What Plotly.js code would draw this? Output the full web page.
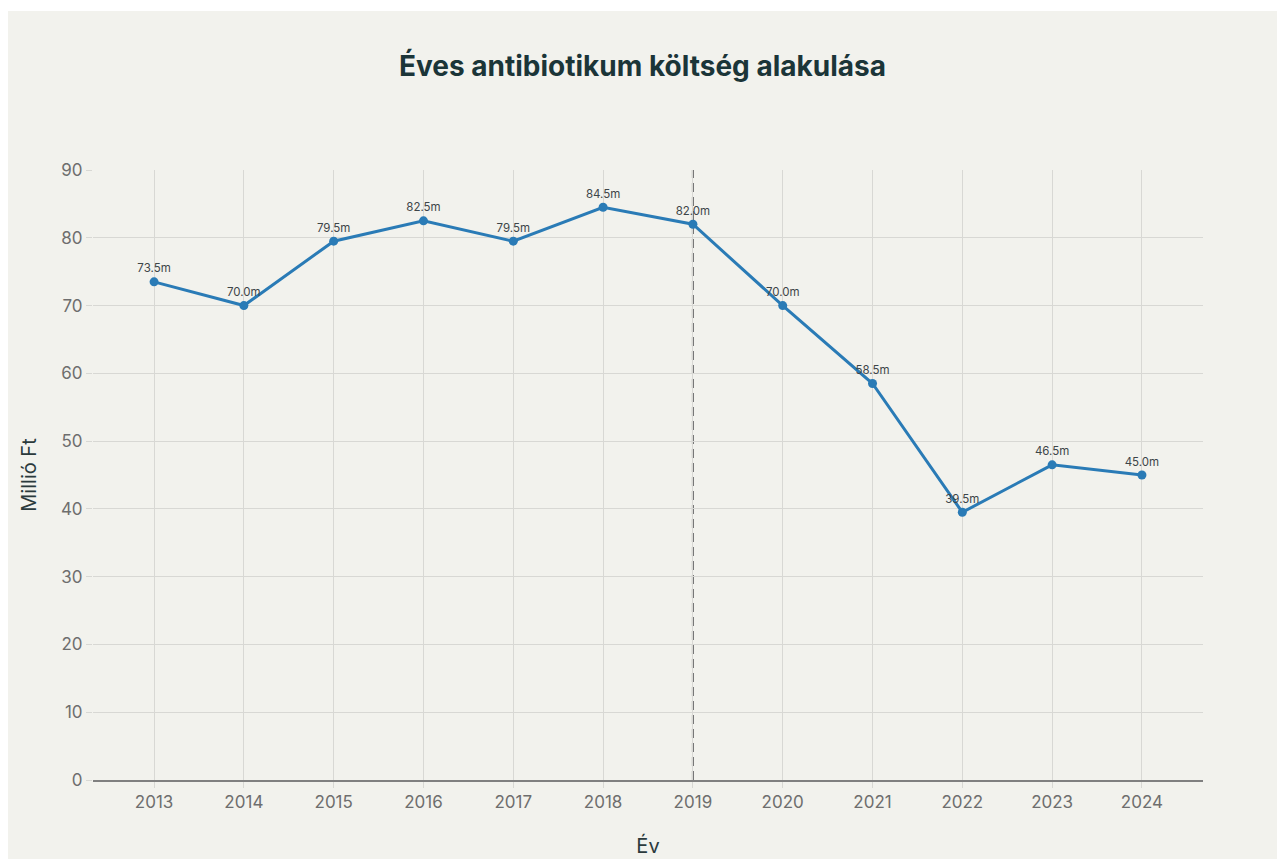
<!DOCTYPE html>
<html>
<head>
<meta charset="utf-8">
<script src="https://cdn.plot.ly/plotly-3.0.1.min.js"></script>
<style>
  html, body { margin: 0; padding: 0; background: #ffffff; }
  #chart { position: absolute; left: 8px; top: 11px; width: 1269px; height: 848px; }
</style>
</head>
<body>
<div id="chart"></div>
<script>
const years = [2013, 2014, 2015, 2016, 2017, 2018, 2019, 2020, 2021, 2022, 2023, 2024];
const costs = [73.5, 70.0, 79.5, 82.5, 79.5, 84.5, 82.0, 70.0, 58.5, 39.5, 46.5, 45.0];
const labels = costs.map(v => v.toFixed(1) + 'm');
const markerYear = 2019;
const yTicks = [0, 10, 20, 30, 40, 50, 60, 70, 80, 90];

const FONT = 'Inter, "Open Sans", sans-serif';

const trace = {
  x: years,
  y: costs,
  type: 'scatter',
  mode: 'lines+markers+text',
  text: labels,
  textposition: 'top center',
  textfont: { family: FONT, size: 11.5, color: '#3d4548' },
  line: { color: '#2a7bb6', width: 3 },
  marker: { color: '#2a7bb6', size: 9 },
  cliponaxis: false,
  hoverinfo: 'x+y'
};

const layout = {
  width: 1269,
  height: 848,
  paper_bgcolor: '#f2f2ed',
  plot_bgcolor: '#f2f2ed',
  margin: { l: 85, r: 74, t: 159, b: 79 },
  showlegend: false,
  title: {
    text: 'Éves antibiotikum költség alakulása',
    font: { family: FONT, size: 28, color: '#1b3538', weight: 'bold' },
    x: 0.5, xanchor: 'center',
    y: 1 - 55 / 848, yref: 'container', yanchor: 'middle'
  },
  xaxis: {
    range: [2012.32, 2024.68],
    tickmode: 'array',
    tickvals: years,
    ticktext: years.map(String),
    showgrid: true,
    gridcolor: '#d8d8d4',
    gridwidth: 1,
    zeroline: false,
    showline: true,
    linecolor: '#808080',
    linewidth: 2,
    ticks: 'outside',
    ticklen: 6,
    tickcolor: '#d8d8d4',
    tickfont: { family: FONT, size: 17, color: '#6e6e6e' },
    title: { text: 'Év', font: { family: FONT, size: 20, color: '#2b3a3c' }, standoff: 28 }
  },
  yaxis: {
    range: [0, 90],
    tickmode: 'array',
    tickvals: yTicks,
    showgrid: true,
    gridcolor: '#d8d8d4',
    gridwidth: 1,
    zeroline: false,
    showline: false,
    ticks: 'outside',
    ticklen: 6,
    tickcolor: '#d8d8d4',
    tickfont: { family: FONT, size: 17, color: '#6e6e6e' },
    title: { text: 'Millió Ft', font: { family: FONT, size: 20, color: '#2b3a3c' }, standoff: 18 }
  },
  shapes: [{
    type: 'line',
    xref: 'x', yref: 'paper',
    x0: markerYear, x1: markerYear, y0: 0, y1: 1,
    line: { color: '#6a6a6a', width: 2, dash: '9px,5px' },
    layer: 'below'
  }]
};

Plotly.newPlot('chart', [trace], layout, { displayModeBar: false, staticPlot: true });
</script>
</body>
</html>
